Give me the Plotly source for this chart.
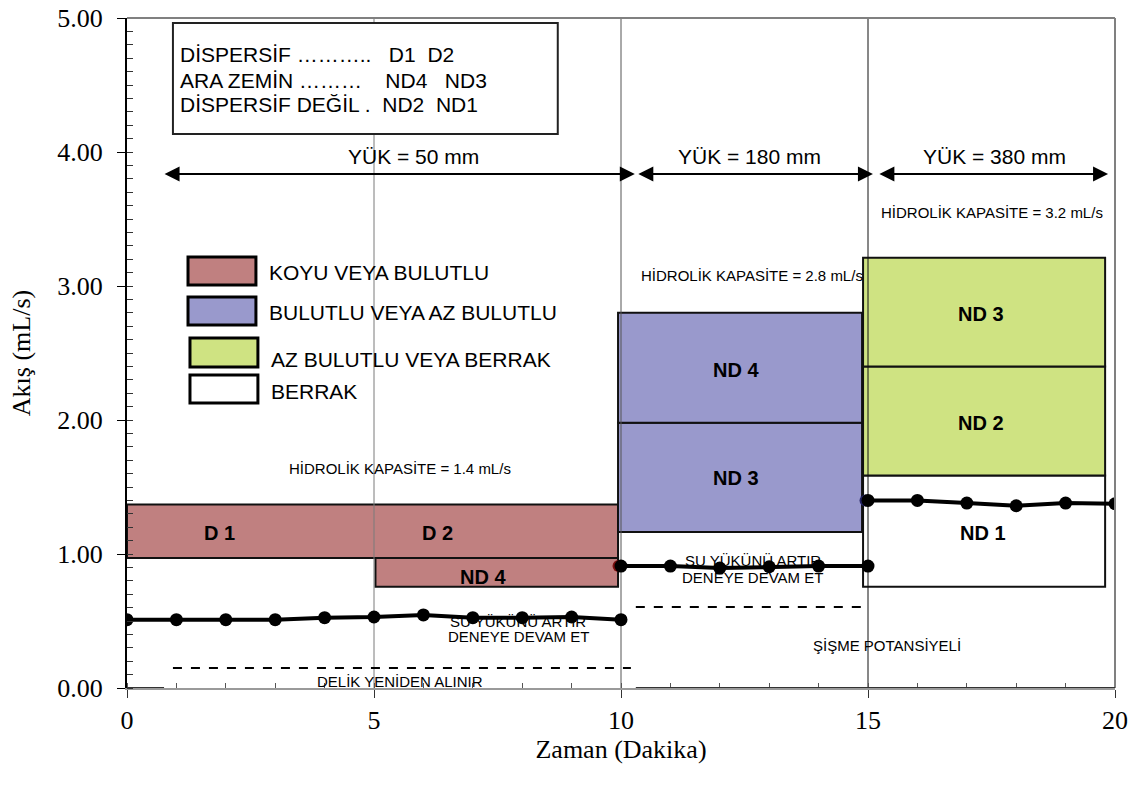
import plotly.graph_objects as go

# ---------------- data ----------------
t1 = list(range(0, 11))
q1 = [0.51, 0.51, 0.51, 0.51, 0.525, 0.53, 0.545, 0.525, 0.525, 0.53, 0.51]
t2 = list(range(10, 16))
q2 = [0.91, 0.91, 0.895, 0.905, 0.91, 0.91]
t3 = list(range(15, 21))
q3 = [1.40, 1.40, 1.38, 1.36, 1.38, 1.375]

# zones (rectangles)
zone_x0 = [0, 5.03, 9.94, 9.94, 14.9, 14.9, 14.9]
zone_x1 = [9.94, 9.94, 14.88, 14.88, 19.8, 19.8, 19.8]
zone_y0 = [0.97, 0.755, 1.165, 1.98, 0.755, 1.585, 2.40]
zone_y1 = [1.37, 0.97, 1.98, 2.80, 1.585, 2.40, 3.21]
zone_cls = [0, 0, 1, 1, 3, 2, 2]

class_names = ["KOYU VEYA BULUTLU", "BULUTLU VEYA AZ BULUTLU",
               "AZ BULUTLU VEYA BERRAK", "BERRAK"]
class_colors = ["#C08080", "#9999CC", "#CFE382", "#FFFFFF"]

label_text = ["D 1", "D 2", "ND 4", "ND 4", "ND 3", "ND 3", "ND 2", "ND 1"]
label_x = [1.87, 6.28, 7.2, 12.33, 12.33, 17.28, 17.28, 17.33]
label_y = [1.157, 1.157, 0.83, 2.37, 1.567, 2.79, 1.98, 1.157]

note_text = ["HİDROLİK KAPASİTE = 1.4 mL/s", "HİDROLİK KAPASİTE = 2.8 mL/s",
             "HİDROLİK KAPASİTE = 3.2 mL/s",
             "SU YÜKÜNÜ ARTIR", "DENEYE DEVAM ET",
             "SU YÜKÜNÜ ARTIR", "DENEYE DEVAM ET",
             "DELİK YENİDEN ALINIR", "ŞİŞME POTANSİYELİ"]
note_x = [5.53, 12.65, 17.51, 7.92, 7.92, 12.67, 12.67, 5.53, 15.38]
note_y = [1.64, 3.075, 3.55, 0.495, 0.383, 0.955, 0.823, 0.045, 0.32]

load_text = ["YÜK = 50 mm", "YÜK = 180 mm", "YÜK = 380 mm"]
load_x0 = [0.73, 10.32, 15.2]
load_x1 = [10.28, 15.1, 19.86]
load_y = 3.836
load_label_x = [5.8, 12.6, 17.57]
load_label_y = 3.97

dash_x0 = [0.93, 10.3]
dash_x1 = [10.2, 15.0]
dash_y = [0.149, 0.604]

key_lines = ["DİSPERSİF ………..\u00a0\u00a0\u00a0D1\u00a0\u00a0D2",
             "ARA ZEMİN ………\u00a0\u00a0\u00a0\u00a0ND4\u00a0\u00a0\u00a0ND3",
             "DİSPERSİF DEĞİL .\u00a0\u00a0ND2\u00a0\u00a0ND1"]

x_ticks = [0, 5, 10, 15, 20]
y_ticks = [0, 1, 2, 3, 4, 5]

# ---------------- figure ----------------
fig = go.Figure()
shapes = []
annotations = []

# coloured zones
for x0, x1, y0, y1, c in zip(zone_x0, zone_x1, zone_y0, zone_y1, zone_cls):
    shapes.append(dict(type="rect", xref="x", yref="y", x0=x0, x1=x1, y0=y0, y1=y1,
                       fillcolor=class_colors[c], line=dict(color="#111111", width=2),
                       layer="below"))

# vertical separators
for xv, col in zip([5, 10, 15], ["#7a7a7a", "#555555", "#111111"]):
    shapes.append(dict(type="line", xref="x", yref="y", x0=xv, x1=xv, y0=0, y1=5,
                       line=dict(color=col, width=1), layer="below"))

# frame top/right (grey)
shapes.append(dict(type="line", xref="paper", yref="paper", x0=0, x1=1, y0=1, y1=1,
                   line=dict(color="#808080", width=2)))
shapes.append(dict(type="line", xref="paper", yref="paper", x0=1, x1=1, y0=0, y1=1,
                   line=dict(color="#808080", width=2)))
# darker parts of the baseline
for x0, x1 in [(0, 0.75), (10.3, 20)]:
    shapes.append(dict(type="line", xref="x", yref="y", x0=x0, x1=x1, y0=0, y1=0,
                       line=dict(color="#333333", width=2)))

# dashed lines
for x0, x1, yv in zip(dash_x0, dash_x1, dash_y):
    shapes.append(dict(type="line", xref="x", yref="y", x0=x0, x1=x1, y0=yv, y1=yv,
                       line=dict(color="black", width=2, dash="dash")))

# key text box
shapes.append(dict(type="rect", xref="x", yref="y", x0=0.93, x1=8.72, y0=4.134, y1=4.963,
                   fillcolor="white", line=dict(color="#222222", width=2)))
for txt, yv in zip(key_lines, [4.724, 4.537, 4.351]):
    annotations.append(dict(x=1.03, y=yv, xref="x", yref="y", text=txt, showarrow=False,
                            xanchor="left", yanchor="middle",
                            font=dict(family="Liberation Sans, Arial", size=21, color="black")))

# legend swatches
sw_x0 = [1.235, 1.235, 1.275, 1.275]
sw_x1 = [2.61, 2.61, 2.65, 2.65]
sw_y0 = [3.007, 2.709, 2.396, 2.127]
sw_y1 = [3.216, 2.918, 2.612, 2.336]
sw_ty = [3.104, 2.806, 2.455, 2.209]
sw_tx = [2.83, 2.83, 2.87, 2.87]
for i in range(4):
    shapes.append(dict(type="rect", xref="x", yref="y", x0=sw_x0[i], x1=sw_x1[i],
                       y0=sw_y0[i], y1=sw_y1[i], fillcolor=class_colors[i],
                       line=dict(color="black", width=3)))
    annotations.append(dict(x=sw_tx[i], y=sw_ty[i], xref="x", yref="y", text=class_names[i],
                            showarrow=False, xanchor="left", yanchor="middle",
                            font=dict(family="Liberation Sans, Arial", size=21, color="black")))

# zone labels
for txt, xv, yv in zip(label_text, label_x, label_y):
    annotations.append(dict(x=xv, y=yv, xref="x", yref="y", text="<b>" + txt + "</b>",
                            showarrow=False,
                            font=dict(family="Liberation Sans, Arial", size=20, color="black")))

# notes
for txt, xv, yv in zip(note_text, note_x, note_y):
    annotations.append(dict(x=xv, y=yv, xref="x", yref="y", text=txt, showarrow=False,
                            font=dict(family="Liberation Sans, Arial", size=15, color="black")))

# load arrows and labels
for txt, x0, x1, lx in zip(load_text, load_x0, load_x1, load_label_x):
    annotations.append(dict(x=x1, y=load_y, ax=x0, ay=load_y, xref="x", yref="y",
                            axref="x", ayref="y", text="", showarrow=True,
                            arrowhead=2, arrowside="end+start", arrowsize=1.5,
                            arrowwidth=2, arrowcolor="black"))
    annotations.append(dict(x=lx, y=load_label_y, xref="x", yref="y", text=txt,
                            showarrow=False,
                            font=dict(family="Liberation Sans, Arial", size=21, color="black")))

# small coloured leftover markers
fig.add_trace(go.Scatter(x=[t2[0] - 0.05, t3[0] - 0.05], y=[q2[0], q3[0]], mode="markers",
                         marker=dict(size=12, color=["#7a1010", "#202060"]),
                         showlegend=False, hoverinfo="skip"))

for tx, qy in [(t1, q1), (t2, q2), (t3, q3)]:
    fig.add_trace(go.Scatter(x=tx, y=qy, mode="lines+markers",
                             line=dict(color="black", width=4),
                             marker=dict(size=13, color="black"),
                             showlegend=False))

fig.update_layout(
    width=1137, height=791,
    margin=dict(l=127, r=22, t=18, b=103),
    paper_bgcolor="white", plot_bgcolor="white",
    shapes=shapes, annotations=annotations,
    showlegend=False,
    xaxis=dict(range=[0, 20], tickvals=x_ticks, showgrid=False, zeroline=False,
               automargin=False, ticklabeloverflow="allow",
               showline=True, linecolor="#9a9a9a", linewidth=2,
               ticks="outside", ticklen=8, tickcolor="#333333",
               minor=dict(dtick=1, ticks="inside", ticklen=5, tickcolor="#555555"),
               tickfont=dict(family="Liberation Serif, Times New Roman", size=26, color="black"),
               title=dict(text="Zaman (Dakika)", standoff=0,
                          font=dict(family="Liberation Serif, Times New Roman", size=26, color="black"))),
    yaxis=dict(range=[0, 5], tickvals=y_ticks, tickformat=".2f", showgrid=False, zeroline=False,
               automargin=False, ticklabeloverflow="allow",
               showline=True, linecolor="black", linewidth=2,
               ticks="outside", ticklen=8, tickcolor="black",
               ticklabelstandoff=9,
               minor=dict(dtick=0.1, ticks="inside", ticklen=6, tickcolor="#333333"),
               tickfont=dict(family="Liberation Serif, Times New Roman", size=26, color="black"),
               title=dict(text="Akış (mL/s)", standoff=19,
                          font=dict(family="Liberation Serif, Times New Roman", size=26, color="black"))),
)

fig.write_html("out.html", config={"displayModeBar": False},
               post_script="document.body.style.margin='0';document.body.style.overflow='hidden';")
